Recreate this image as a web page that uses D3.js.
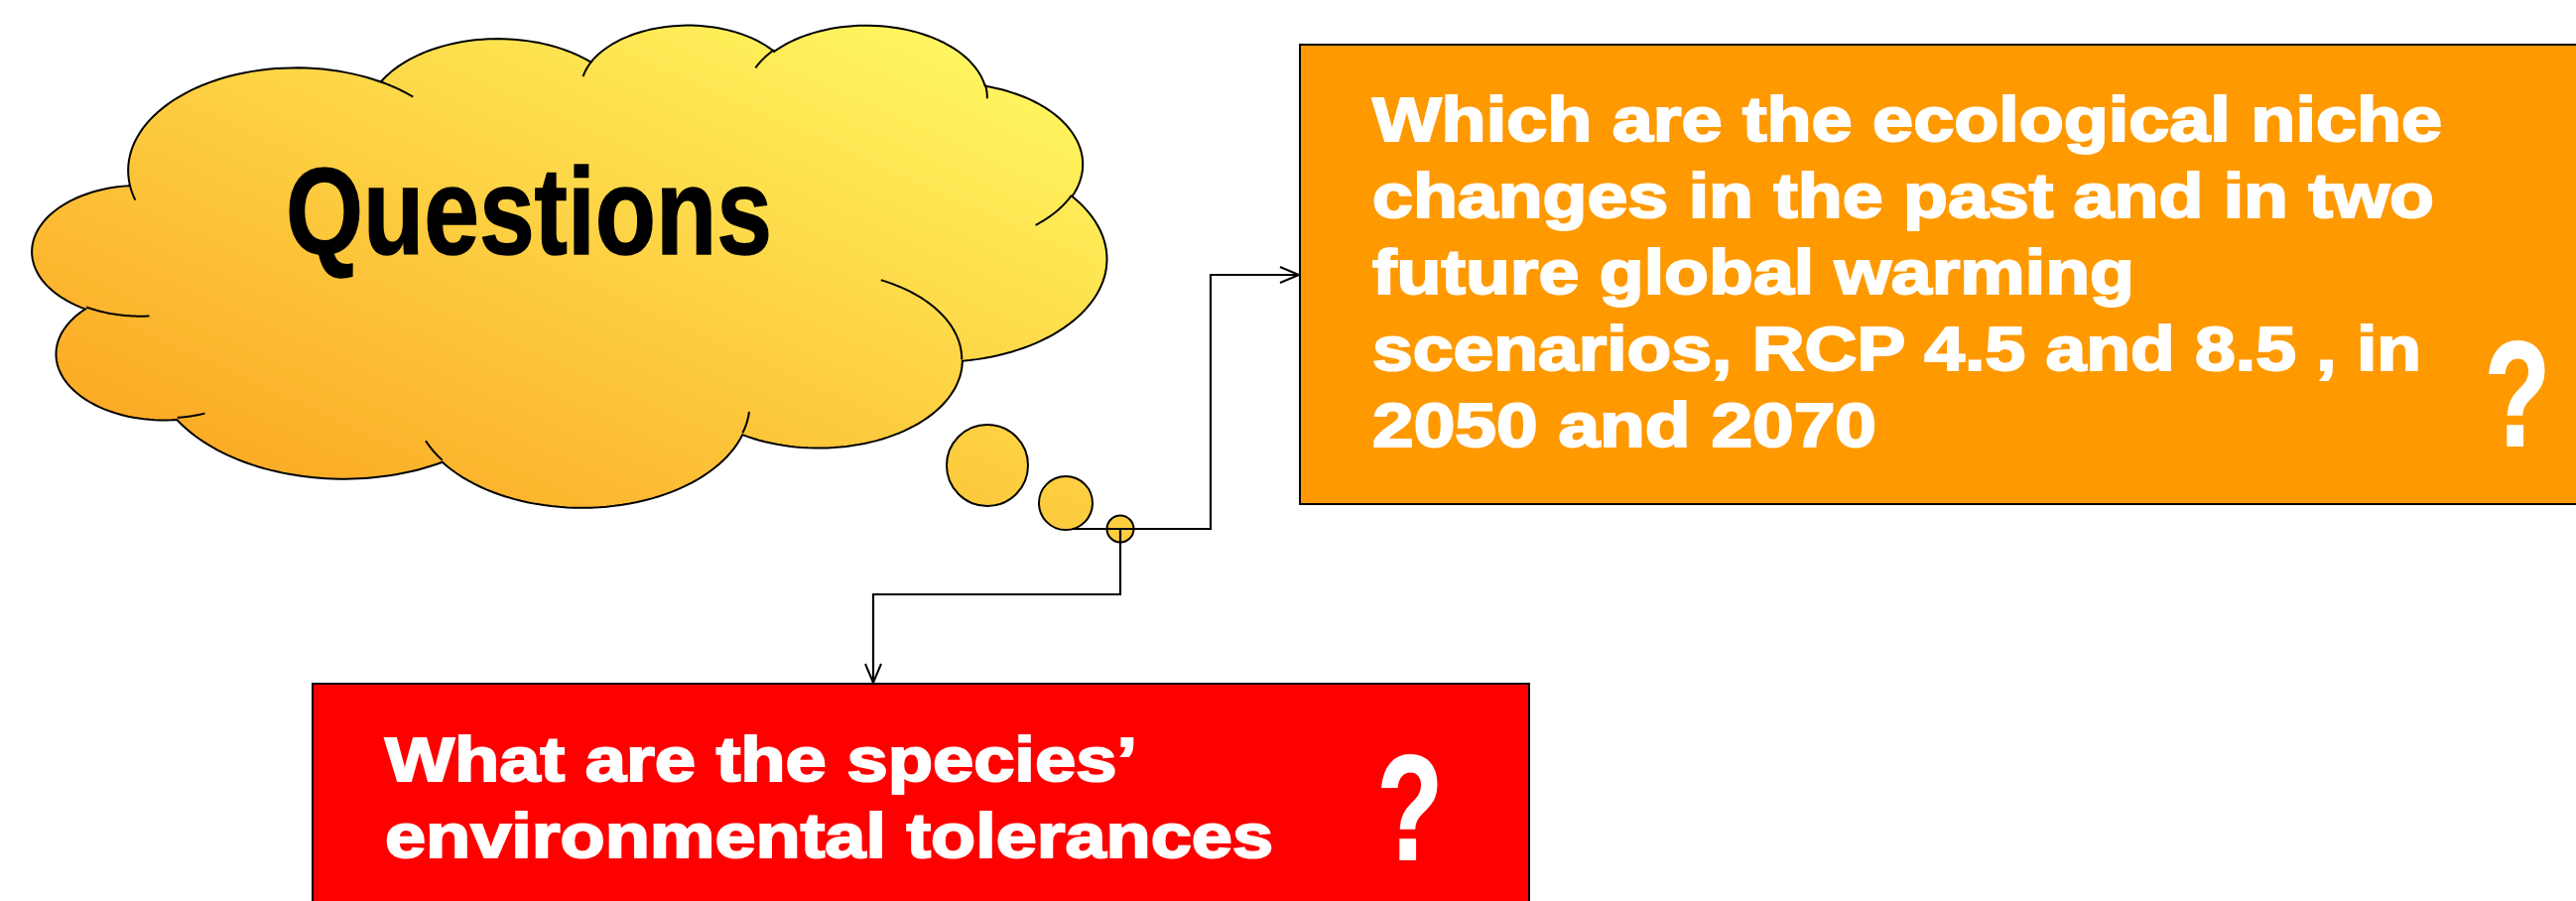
<!DOCTYPE html>
<html>
<head>
<meta charset="utf-8">
<script src="https://cdn.jsdelivr.net/npm/d3@7"></script>
<style>
  html, body { margin: 0; padding: 0; background: #ffffff; }
  svg { display: block; }
</style>
</head>
<body>
<div id="chart"></div>
<script>
// ---------------- DATA ----------------
// Cloud outline (DrawingML "cloud" preset, 43200 x 43200 path space)
const cloudStart = [3900, 14370];
const cloudOuterArcs = [
  [6753, 9190, -11429249, 7426832],
  [5333, 7267, -8646143, 5396714],
  [4365, 5945, -8748475, 5983381],
  [4857, 6595, -7859164, 7034504],
  [5333, 7273, -4722533, 6541615],
  [6775, 9220, -2776035, 7816140],
  [5785, 7867, 37501, 6842000],
  [6752, 9215, 1347096, 6910353],
  [7720, 10543, 3974558, 4542661],
  [4360, 5918, -16496525, 8804134],
  [4345, 5945, -14809710, 9151131]
];
// Inner (unfilled) arcs of the cloud: start x, start y, wR, hR, stAng, swAng
const cloudInnerArcs = [
  [4693, 26177, 4345, 5945, 5204520, 1585770],
  [6928, 34899, 4360, 5918, 4416628, 686848],
  [16478, 39090, 6752, 9215, 8257449, 844866],
  [28827, 34751, 6752, 9215, 387196, 959901],
  [34129, 22954, 5785, 7867, -4217541, 4255042],
  [41798, 15354, 5333, 7273, 1819082, 1665090],
  [38324, 5426, 4857, 6595, -824660, 891282],
  [29078, 3952, 4857, 6595, -8950887, 1091808],
  [22141, 4720, 4365, 5945, -9809656, 1061244],
  [14000, 5192, 6753, 9190, -4002417, 739161],
  [4127, 15789, 6753, 9190, 9459261, 711490]
];
const cloudTitle = "Questions";
const orangeLines = [
  "Which are the ecological niche",
  "changes in the past and in two",
  "future global warming",
  "scenarios, RCP 4.5 and 8.5 , in",
  "2050 and 2070"
];
const redLines = [
  "What are the species\u2019",
  "environmental tolerances"
];
const questionMark = "?";

// ---------------- LAYOUT ----------------
const W = 2596, H = 908;
const cloudBox = { x0: 33, x1: 1115, y0: 24, y1: 510 };
const bubbles = [ { cx: 995, cy: 469, r: 41 }, { cx: 1074, cy: 507, r: 27 }, { cx: 1129, cy: 533, r: 13.5 } ];
const orangeBox = { x: 1310, y: 45, w: 1320, h: 463, fill: "#FF9900" };
const redBox = { x: 315, y: 689, w: 1226, h: 260, fill: "#FF0000" };
const orangeText = { x: 1383, y0: 142, dy: 77, widths: [1078, 1070, 768, 1057, 508] };
const redText = { x: 388, y0: 787, dy: 77, widths: [758, 895] };

const svg = d3.select("#chart").append("svg")
  .attr("width", W).attr("height", H)
  .attr("viewBox", `0 0 ${W} ${H}`);

const xs = d3.scaleLinear().domain([0, 43200]).range([cloudBox.x0, cloudBox.x1]);
const ys = d3.scaleLinear().domain([0, 43200]).range([cloudBox.y0, cloudBox.y1]);

// gradient (orange bottom-left -> yellow top-right), in user space matching bbox diagonal
const bw = cloudBox.x1 - cloudBox.x0, bh = cloudBox.y1 - cloudBox.y0;
const c = 2 / (1 / (bw * bw) + 1 / (bh * bh));
const defs = svg.append("defs");
const grad = defs.append("linearGradient").attr("id", "cloudGrad")
  .attr("gradientUnits", "userSpaceOnUse")
  .attr("x1", cloudBox.x0).attr("y1", cloudBox.y1)
  .attr("x2", cloudBox.x0 + c / bw).attr("y2", cloudBox.y1 - c / bh);
grad.append("stop").attr("offset", "0").attr("stop-color", "#FB9E1C");
grad.append("stop").attr("offset", "1").attr("stop-color", "#FFFF66");

// arc sampler (DrawingML arcTo semantics)
function arcPts(x0, y0, wR, hR, st, sw, n = 48) {
  const rad = a => a / 60000 * Math.PI / 180;
  const par = phi => Math.atan2(wR * Math.sin(phi), hR * Math.cos(phi));
  const swR = rad(sw);
  const t0 = par(rad(st));
  let t1 = par(rad(st + sw));
  while (t1 - t0 - swR > Math.PI) t1 -= 2 * Math.PI;
  while (t1 - t0 - swR < -Math.PI) t1 += 2 * Math.PI;
  const cx = x0 - wR * Math.cos(t0), cy = y0 - hR * Math.sin(t0);
  const pts = [];
  for (let i = 0; i <= n; i++) {
    const t = t0 + (t1 - t0) * i / n;
    pts.push([cx + wR * Math.cos(t), cy + hR * Math.sin(t)]);
  }
  return pts;
}

const line = d3.line().x(d => xs(d[0])).y(d => ys(d[1]));

// outer cloud
let cur = cloudStart.slice();
let outer = [cur];
cloudOuterArcs.forEach(a => {
  const p = arcPts(cur[0], cur[1], a[0], a[1], a[2], a[3]);
  outer = outer.concat(p.slice(1));
  cur = p[p.length - 1];
});
svg.append("path").attr("d", line(outer) + "Z")
  .attr("fill", "url(#cloudGrad)").attr("stroke", "#000").attr("stroke-width", 2);

// inner arcs
svg.selectAll("path.inner").data(cloudInnerArcs).join("path")
  .attr("class", "inner")
  .attr("d", a => line(arcPts(a[0], a[1], a[2], a[3], a[4], a[5])))
  .attr("fill", "none").attr("stroke", "#000").attr("stroke-width", 2);

// bubbles
svg.selectAll("circle.bub").data(bubbles).join("circle")
  .attr("class", "bub")
  .attr("cx", d => d.cx).attr("cy", d => d.cy).attr("r", d => d.r)
  .attr("fill", "url(#cloudGrad)").attr("stroke", "#000").attr("stroke-width", 2);

// title
svg.append("text").text(cloudTitle)
  .attr("x", 288).attr("y", 256)
  .attr("textLength", 490).attr("lengthAdjust", "spacingAndGlyphs")
  .attr("font-family", "'Liberation Sans', Arial, sans-serif")
  .attr("font-weight", "bold").attr("font-size", 124)
  .attr("fill", "#000").attr("stroke", "#000").attr("stroke-width", 1.5);

// boxes
svg.append("rect").attr("x", orangeBox.x).attr("y", orangeBox.y)
  .attr("width", orangeBox.w).attr("height", orangeBox.h)
  .attr("fill", orangeBox.fill).attr("stroke", "#000").attr("stroke-width", 2);
svg.append("rect").attr("x", redBox.x).attr("y", redBox.y)
  .attr("width", redBox.w).attr("height", redBox.h)
  .attr("fill", redBox.fill).attr("stroke", "#000").attr("stroke-width", 2);

function textBlock(lines, cfg) {
  svg.append("g").selectAll("text").data(lines).join("text")
    .text(d => d)
    .attr("x", cfg.x)
    .attr("y", (d, i) => cfg.y0 + i * cfg.dy)
    .attr("textLength", (d, i) => cfg.widths[i])
    .attr("lengthAdjust", "spacingAndGlyphs")
    .attr("font-family", "'Liberation Sans', Arial, sans-serif")
    .attr("font-weight", "bold").attr("font-size", 63)
    .attr("fill", "#fff").attr("stroke", "#fff").attr("stroke-width", 2);
}
textBlock(orangeLines, orangeText);
textBlock(redLines, redText);

// question marks
[[2537, 449], [1421, 866]].forEach(p => {
  svg.append("text").text(questionMark)
    .attr("x", p[0]).attr("y", p[1])
    .attr("text-anchor", "middle")
    .attr("textLength", 66).attr("lengthAdjust", "spacingAndGlyphs")
    .attr("font-family", "'Liberation Sans', Arial, sans-serif")
    .attr("font-weight", "bold").attr("font-size", 150)
    .attr("fill", "#fff").attr("stroke", "#fff").attr("stroke-width", 2);
});

// connectors
const connectors = [
  [[1080, 533], [1220, 533], [1220, 277], [1310, 277]],
  [[1129, 533], [1129, 599], [880, 599], [880, 689]]
];
svg.selectAll("path.conn").data(connectors).join("path")
  .attr("class", "conn")
  .attr("d", d => d3.line()(d))
  .attr("fill", "none").attr("stroke", "#000").attr("stroke-width", 2.2);

// open arrowheads
function arrowHead(tip, dir) {
  const L = 19, hw = 8;
  let pts;
  if (dir === "right") pts = [[tip[0] - L, tip[1] - hw], tip, [tip[0] - L, tip[1] + hw]];
  else pts = [[tip[0] - hw, tip[1] - L], tip, [tip[0] + hw, tip[1] - L]];
  svg.append("path").attr("d", d3.line()(pts))
    .attr("fill", "none").attr("stroke", "#000").attr("stroke-width", 2);
}
arrowHead([1309, 277], "right");
arrowHead([880, 688], "down");
</script>
</body>
</html>
